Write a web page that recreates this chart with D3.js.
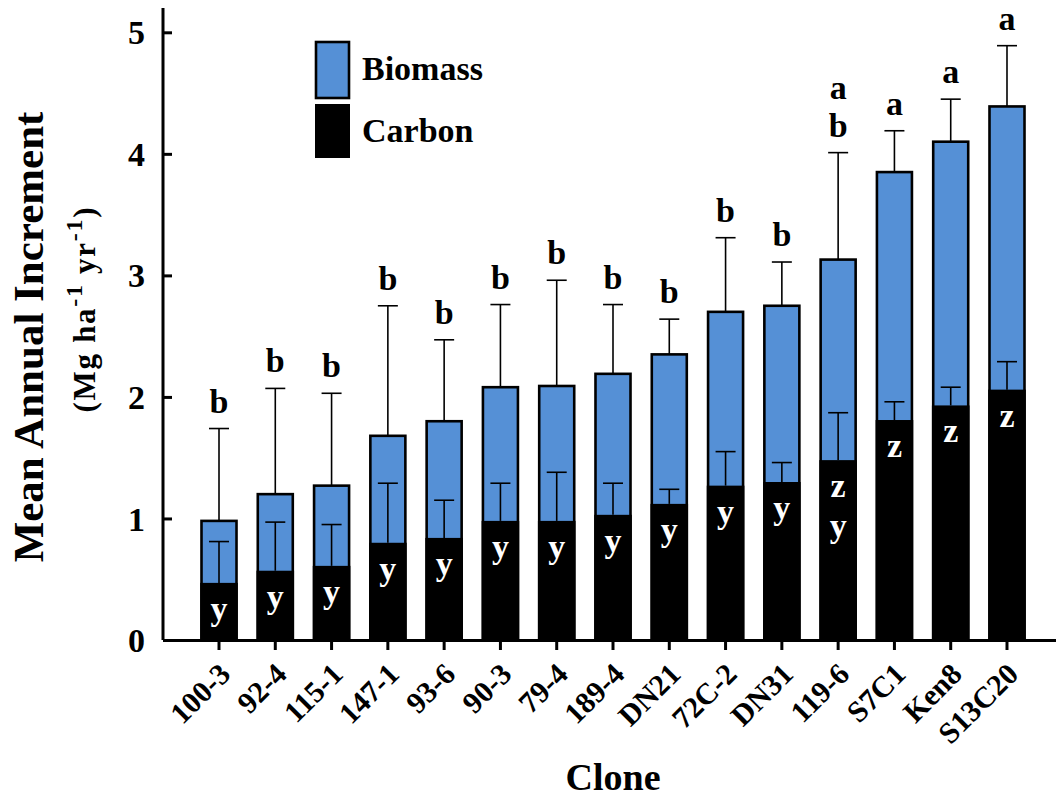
<!DOCTYPE html>
<html>
<head>
<meta charset="utf-8">
<script src="https://cdn.jsdelivr.net/npm/d3@7"></script>
<style>
  body { margin: 0; background: #fff; }
  text { font-family: "Liberation Serif", "Times New Roman", serif; font-weight: bold; }
</style>
</head>
<body>
<svg id="chart" width="1056" height="798"></svg>
<script>
/* ---------------- data ---------------- */
const clones = ['100-3', '92-4', '115-1', '147-1', '93-6', '90-3', '79-4', '189-4',
    'DN21', '72C-2', 'DN31', '119-6', 'S7C1', 'Ken8', 'S13C20']
const biomass = [0.98, 1.20, 1.27, 1.68, 1.80, 2.08, 2.09, 2.19, 2.35, 2.70, 2.75, 3.13, 3.85, 4.10, 4.39]
const biomassErr = [0.76, 0.87, 0.76, 1.07, 0.67, 0.68, 0.87, 0.57, 0.29, 0.61, 0.36, 0.88, 0.34, 0.35, 0.50]
const carbon = [0.47, 0.57, 0.61, 0.80, 0.84, 0.98, 0.98, 1.03, 1.12, 1.27, 1.30, 1.48, 1.81, 1.93, 2.06]
const carbonErr = [0.34, 0.40, 0.34, 0.49, 0.31, 0.31, 0.40, 0.26, 0.12, 0.28, 0.16, 0.39, 0.15, 0.15, 0.23]
const biomassLetters = [['b'], ['b'], ['b'], ['b'], ['b'], ['b'], ['b'], ['b'],
    ['b'], ['b'], ['b'], ['a', 'b'], ['a'], ['a'], ['a']]
const carbonLetters = [['y'], ['y'], ['y'], ['y'], ['y'], ['y'], ['y'], ['y'],
    ['y'], ['y'], ['y'], ['z', 'y'], ['z'], ['z'], ['z']]
const yTicks = [0, 1, 2, 3, 4, 5]

const blue = '#5590d6'
const serif = '"Liberation Serif", "Times New Roman", serif'

let svg = d3.select('#chart')

let x = d3.scaleBand().domain(clones).range([163, 1063])
    .paddingInner(0.378).paddingOuter(0.684)
let y = d3.scaleLinear().domain([0, 5.2]).range([640, 8])

let rows = clones.map((c, i) => ({
    clone: c, bio: biomass[i], bioErr: biomassErr[i],
    carb: carbon[i], carbErr: carbonErr[i],
    bioLet: biomassLetters[i], carbLet: carbonLetters[i]
}))

/* ----- bars ----- */
let g = svg.append('g')
let bw = x.bandwidth()
let sw = 2.6

g.selectAll('.bio').data(rows).enter().append('rect')
    .attr('class', 'bio')
    .attr('x', d => x(d.clone))
    .attr('y', d => y(d.bio))
    .attr('width', bw)
    .attr('height', d => y(0) - y(d.bio))
    .attr('fill', blue).attr('stroke', '#000').attr('stroke-width', sw)

g.selectAll('.carb').data(rows).enter().append('rect')
    .attr('class', 'carb')
    .attr('x', d => x(d.clone) - sw / 2)
    .attr('y', d => y(d.carb))
    .attr('width', bw + sw)
    .attr('height', d => y(0) - y(d.carb))
    .attr('fill', '#000')

/* ----- error bars ----- */
function errBars(key, errKey) {
    let eg = g.append('g').attr('stroke', '#000').attr('stroke-width', 1.6)
    eg.selectAll('line.v').data(rows).enter().append('line')
        .attr('x1', d => x(d.clone) + bw / 2).attr('x2', d => x(d.clone) + bw / 2)
        .attr('y1', d => y(d[key])).attr('y2', d => y(d[key] + d[errKey]))
    eg.selectAll('line.h').data(rows).enter().append('line')
        .attr('x1', d => x(d.clone) + bw / 2 - 10).attr('x2', d => x(d.clone) + bw / 2 + 10)
        .attr('y1', d => y(d[key] + d[errKey])).attr('y2', d => y(d[key] + d[errKey]))
}
errBars('bio', 'bioErr')
errBars('carb', 'carbErr')

/* ----- letters ----- */
rows.forEach(d => {
    let cx = x(d.clone) + bw / 2
    let top = y(d.bio + d.bioErr) - 16
    d.bioLet.slice().reverse().forEach((l, k) => {
        g.append('text').attr('x', cx).attr('y', top - k * 38)
            .attr('text-anchor', 'middle').attr('font-size', 34).text(l)
    })
    d.carbLet.forEach((l, k) => {
        g.append('text').attr('x', cx).attr('y', y(d.carb) + 37 + k * 40)
            .attr('text-anchor', 'middle').attr('font-size', 34).attr('fill', '#fff').text(l)
    })
})

/* ----- axes ----- */
let yAxis = svg.append('g').attr('transform', 'translate(163,0)')
    .call(d3.axisRight(y).tickValues(yTicks).tickSize(9).tickFormat(d3.format('d')))
yAxis.select('.domain').attr('d', 'M0,' + y(0) + 'V' + y(5.2)).attr('stroke-width', 3)
yAxis.selectAll('.tick line').attr('stroke-width', 3)
yAxis.selectAll('.tick text').attr('x', -18).attr('dy', '0.34em')
    .attr('text-anchor', 'end').attr('font-size', 34).attr('fill', '#000')
    .style('font-family', serif)

let xAxis = svg.append('g').attr('transform', 'translate(0,' + y(0) + ')')
    .call(d3.axisBottom(x).tickSize(10).tickSizeOuter(0))
xAxis.select('.domain').attr('stroke-width', 3)
xAxis.selectAll('.tick line').attr('stroke-width', 3)
xAxis.selectAll('.tick text')
    .attr('x', 0).attr('y', 0).attr('dy', 0)
    .attr('text-anchor', 'end')
    .attr('transform', 'translate(13,36) rotate(-45)')
    .attr('font-size', 30).attr('fill', '#000')
    .style('font-family', serif)

/* ----- titles ----- */
svg.append('text').attr('transform', 'translate(43,337) rotate(-90)')
    .attr('text-anchor', 'middle').attr('font-size', 43).text('Mean Annual Increment')

let sub = svg.append('text').attr('transform', 'translate(95,310) rotate(-90)')
    .attr('text-anchor', 'middle').attr('font-size', 31)
    .attr('textLength', 205).attr('lengthAdjust', 'spacing')
sub.append('tspan').text('(Mg ha')
sub.append('tspan').attr('font-size', 24).attr('dy', -13).text('-1')
sub.append('tspan').attr('dy', 13).text(' yr')
sub.append('tspan').attr('font-size', 24).attr('dy', -13).text('-1')
sub.append('tspan').attr('dy', 13).text(')')

svg.append('text').attr('x', 613).attr('y', 790)
    .attr('text-anchor', 'middle').attr('font-size', 38).text('Clone')

/* ----- legend ----- */
let legend = svg.append('g')
legend.append('rect').attr('x', 316).attr('y', 42).attr('width', 33).attr('height', 56)
    .attr('fill', blue).attr('stroke', '#000').attr('stroke-width', sw)
legend.append('rect').attr('x', 315).attr('y', 104).attr('width', 35).attr('height', 54)
    .attr('fill', '#000')
legend.append('text').attr('x', 362).attr('y', 80).attr('font-size', 34).text('Biomass')
legend.append('text').attr('x', 362).attr('y', 142).attr('font-size', 34).text('Carbon')
</script>
</body>
</html>
